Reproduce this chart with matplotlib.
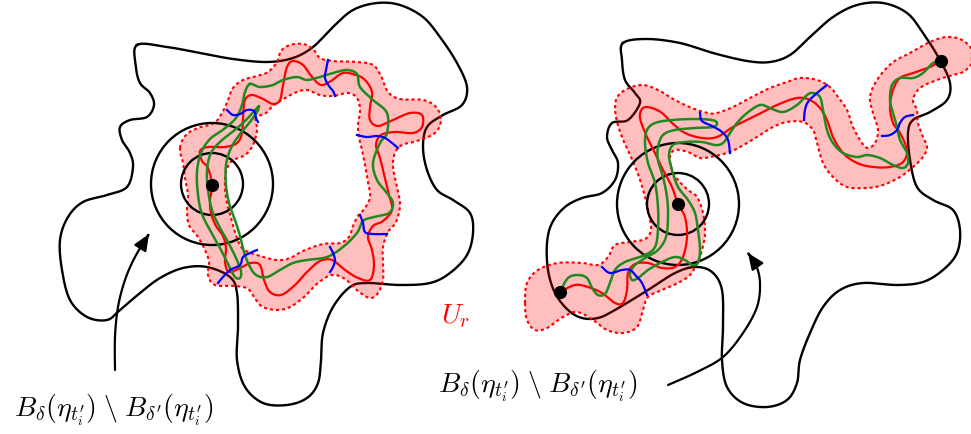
import numpy as np
import matplotlib
matplotlib.use("Agg")
import matplotlib.pyplot as plt
from matplotlib.path import Path
from matplotlib.patches import PathPatch, Circle, FancyArrowPatch

plt.rcParams["mathtext.fontset"] = "cm"

# control points, in pixel coordinates of the 971x434 picture (y grows downward)
left_domain = [(137, 45), (167, 47), (200, 53), (233, 59), (267, 62), (293, 58), (313, 47), (333, 27),
               (353, 10), (377, 3), (400, 5), (423, 17), (440, 37), (457, 63), (467, 87), (462, 105),
               (443, 115), (427, 127), (423, 147), (427, 170), (437, 190), (453, 200), (470, 213),
               (473, 233), (467, 255), (450, 273), (430, 283), (400, 285), (367, 283), (350, 287),
               (333, 307), (323, 333), (321, 360), (318, 383), (307, 398), (287, 405), (263, 403),
               (245, 387), (237, 360), (238, 327), (237, 293), (230, 277), (207, 267), (183, 268),
               (160, 278), (140, 293), (120, 310), (107, 320), (87, 317), (70, 300), (62, 270),
               (60, 240), (68, 217), (83, 202), (107, 195), (127, 187), (133, 167), (130, 153),
               (122, 140), (120, 127), (130, 120), (147, 117), (154, 105), (150, 93), (140, 83),
               (136, 67)]

right_domain = [(623, 43), (647, 39), (680, 43), (713, 53), (747, 61), (770, 62), (790, 55), (810, 37),
                (833, 17), (857, 5), (883, 3), (907, 13), (923, 33), (940, 60), (950, 83), (947, 100),
                (930, 112), (913, 120), (908, 133), (910, 160), (917, 187), (933, 200), (953, 210),
                (960, 230), (957, 253), (943, 270), (923, 282), (897, 285), (863, 283), (840, 290),
                (823, 307), (810, 333), (800, 360), (797, 383), (787, 400), (767, 407), (743, 403),
                (727, 387), (722, 360), (723, 327), (722, 290), (712, 272), (695, 267), (675, 273),
                (648, 290), (615, 310), (598, 318), (582, 318), (568, 310), (555, 293), (548, 270),
                (547, 243), (552, 223), (565, 207), (582, 198), (602, 193), (615, 180), (618, 163),
                (612, 150), (607, 137), (612, 123), (628, 120), (640, 103), (635, 93), (625, 80),
                (622, 60)]

left_tube_outer = [(180, 148), (186, 135), (198, 128), (214, 123), (222, 113), (228, 100), (233, 88),
                   (243, 80), (257, 76), (268, 72), (277, 62), (281, 51), (290, 45), (303, 44),
                   (313, 49), (320, 58), (333, 61), (357, 62), (373, 65), (381, 76), (388, 92),
                   (400, 99), (423, 100), (436, 107), (441, 120), (435, 133), (417, 141), (402, 145),
                   (395, 153), (393, 167), (397, 187), (400, 205), (396, 222), (388, 232), (383, 247),
                   (383, 262), (383, 280), (378, 293), (370, 298), (358, 291), (345, 279), (332, 275),
                   (318, 283), (304, 297), (290, 307), (277, 310), (263, 307), (256, 300), (248, 289),
                   (235, 286), (215, 285), (208, 275), (209, 262), (205, 250), (198, 237), (189, 225),
                   (187, 210), (188, 195), (185, 178), (183, 163)]

left_tube_inner = [(256, 118), (266, 113), (274, 105), (287, 97), (297, 92), (307, 90), (320, 95),
                   (333, 96), (348, 93), (357, 98), (360, 110), (358, 125), (359, 137), (362, 150),
                   (365, 165), (368, 182), (370, 197), (365, 208), (358, 216), (353, 226), (349, 237),
                   (340, 243), (323, 244), (303, 251), (290, 258), (277, 260), (257, 255), (243, 249),
                   (237, 238), (231, 218), (227, 203), (225, 188), (226, 172), (232, 161), (245, 155),
                   (253, 145), (257, 130)]

right_tube = [(525, 303), (527, 283), (538, 270), (558, 263), (582, 263), (598, 265), (608, 257),
              (615, 245), (630, 242), (645, 239), (651, 230), (649, 215), (645, 197), (639, 177),
              (631, 157), (622, 137), (616, 117), (616, 100), (625, 90), (642, 85), (658, 90),
              (675, 100), (692, 108), (708, 113), (717, 113), (733, 107), (750, 98), (770, 88),
              (787, 82), (800, 78), (817, 80), (830, 87), (838, 97), (847, 110), (853, 127),
              (862, 143), (868, 148), (875, 143), (878, 130), (873, 113), (870, 97), (877, 80),
              (892, 63), (910, 53), (930, 42), (947, 37), (962, 40), (972, 50), (972, 63),
              (963, 72), (953, 75), (937, 80), (920, 88), (913, 100), (917, 110), (918, 123),
              (923, 137), (927, 147), (923, 157), (913, 167), (900, 177), (883, 185), (867, 188),
              (847, 187), (833, 177), (823, 163), (817, 143), (813, 130), (803, 122), (787, 122),
              (773, 127), (757, 137), (740, 147), (727, 153), (710, 157), (700, 158), (688, 152),
              (675, 150), (670, 157), (672, 170), (678, 180), (688, 190), (697, 197), (703, 213),
              (705, 233), (702, 250), (697, 263), (690, 275), (678, 283), (662, 290), (648, 297),
              (643, 310), (637, 327), (623, 333), (607, 330), (593, 320), (577, 312), (563, 317),
              (547, 328), (535, 330), (527, 320)]

left_red = [(212, 185), (210, 200), (211, 213), (216, 226), (223, 236), (226, 248), (225, 262),
            (229, 272), (240, 268), (251, 263), (260, 265), (264, 280), (270, 292), (281, 295),
            (294, 286), (307, 272), (320, 261), (332, 260), (345, 270), (358, 278), (370, 280),
            (374, 266), (372, 250), (368, 237), (373, 226), (383, 221), (392, 210), (389, 195),
            (385, 178), (380, 158), (376, 145), (381, 135), (395, 132), (413, 133), (422, 127),
            (422, 115), (410, 113), (393, 120), (378, 126), (370, 120), (370, 107), (372, 92),
            (365, 80), (356, 75), (343, 73), (331, 81), (321, 85), (312, 77), (303, 65), (293, 61),
            (287, 67), (283, 85), (280, 100), (273, 104), (263, 99), (252, 95), (245, 100),
            (243, 117), (242, 133), (237, 143), (225, 147), (208, 147), (200, 151), (202, 161),
            (208, 168)]

right_red = [(560, 292), (575, 285), (588, 287), (602, 293), (615, 303), (623, 303), (627, 290),
             (628, 273), (635, 264), (648, 263), (662, 268), (675, 267), (683, 257), (687, 237),
             (685, 217), (678, 204), (672, 187), (663, 170), (655, 153), (647, 137), (640, 118),
             (643, 108), (652, 108), (662, 113), (672, 123), (685, 133), (702, 138), (717, 137),
             (733, 127), (757, 115), (777, 105), (797, 98), (810, 100), (820, 108), (827, 120),
             (833, 137), (843, 153), (857, 163), (873, 167), (890, 167), (903, 162), (907, 150),
             (900, 133), (893, 123), (890, 107), (893, 90), (900, 78), (913, 73), (930, 67),
             (941, 61)]

left_green = [(250, 84), (245, 92), (242, 105), (236, 118), (224, 129), (210, 139), (201, 153),
              (197, 172), (198, 195), (202, 214), (211, 232), (221, 250), (229, 266), (235, 277),
              (240, 278), (241, 271), (236, 258), (228, 242), (219, 226), (212, 210), (208, 190),
              (207, 170), (211, 153), (221, 141), (235, 130), (247, 119), (255, 110), (259, 106),
              (257, 112), (250, 122), (240, 134), (231, 148), (226, 165), (226, 185), (229, 203),
              (235, 220), (240, 236), (244, 252), (249, 265), (256, 275), (267, 277), (280, 270),
              (293, 263), (307, 260), (327, 257), (343, 247), (357, 233), (363, 221), (374, 217),
              (389, 213), (393, 203), (387, 193), (377, 180), (373, 163), (380, 143), (387, 133),
              (387, 113), (373, 100), (360, 87), (357, 74), (347, 70), (333, 73), (320, 77),
              (307, 80), (297, 77), (283, 80), (273, 85), (260, 87)]

right_green = [(560, 292), (568, 278), (578, 275), (587, 278), (592, 288), (598, 295), (605, 294),
               (610, 283), (615, 270), (625, 262), (645, 255), (655, 247), (658, 230), (658, 207),
               (655, 183), (648, 163), (645, 143), (647, 130), (655, 123), (672, 120), (695, 119),
               (712, 120), (717, 123), (713, 127), (695, 128), (675, 130), (663, 135), (658, 147),
               (658, 160), (663, 177), (667, 197), (668, 217), (666, 237), (658, 250), (645, 258),
               (635, 265), (630, 273), (632, 280), (638, 278), (648, 270), (662, 262), (675, 257),
               (685, 260), (692, 265), (698, 263), (700, 250), (698, 230), (695, 213), (688, 200),
               (678, 187), (672, 170), (669, 155), (673, 145), (685, 142), (702, 142), (715, 145),
               (723, 143), (730, 133), (737, 123), (747, 113), (760, 105), (770, 108), (783, 112),
               (797, 105), (807, 95), (813, 93), (820, 97), (823, 110), (827, 130), (833, 143),
               (843, 153), (857, 157), (867, 155), (880, 158), (893, 165), (903, 168), (908, 163),
               (907, 153), (900, 140), (897, 127), (893, 113), (890, 100), (892, 85), (900, 78),
               (913, 78), (923, 73), (933, 63), (941, 61)]

blue_arcs = [
    [(227, 110), (233, 115), (240, 114), (247, 110), (254, 111), (256, 118), (258, 122)],
    [(328, 60), (326, 70), (325, 78), (329, 86), (333, 91), (335, 96)],
    [(357, 135), (367, 137), (377, 136), (385, 138), (392, 143), (398, 148)],
    [(360, 215), (363, 223), (365, 232), (373, 234), (387, 234)],
    [(330, 247), (333, 253), (335, 260), (333, 267), (330, 272)],
    [(218, 283), (223, 277), (230, 270), (240, 265), (243, 257), (250, 253), (257, 250)],
    [(602, 267), (610, 273), (622, 270), (630, 270), (637, 277), (642, 283), (647, 295)],
    [(700, 113), (702, 121), (712, 126), (722, 132), (728, 140), (730, 153)],
    [(827, 85), (817, 93), (808, 102), (805, 110), (804, 120)],
    [(913, 115), (905, 117), (900, 123), (897, 130), (890, 135), (882, 136)],
]

ball_centres = [(212, 184), (678, 204)]
ball_radii = [31, 61]
dots = [(212, 185), (678, 204), (560, 292), (941, 61)]

arrows = [
    [(115, 370), (115, 337), (118, 307), (125, 280), (135, 257), (149, 234)],
    [(668, 385), (697, 372), (723, 357), (743, 333), (757, 307), (760, 283), (756, 265), (748, 253)],
]

label = r"$B_\delta(\eta_{t_i^\prime})\;\backslash\; B_{\delta^\prime}(\eta_{t_i^\prime})$"
label_pos = [(114, 410), (538, 386)]
tube_label = r"$U_r$"
tube_label_pos = (456, 316)

GREEN = "#1f8a1f"
BLUE = "#0000ff"


def smooth(pts, closed=False, n=16):
    # Catmull-Rom through the control points
    p = np.asarray(pts, float)
    if closed:
        P = np.vstack([p[-1], p, p[0], p[1]])
    else:
        P = np.vstack([p[0], p, p[-1]])
    t = np.linspace(0, 1, n, endpoint=False)[:, None]
    out = []
    for i in range(1, len(P) - 2):
        p0, p1, p2, p3 = P[i - 1], P[i], P[i + 1], P[i + 2]
        out.append(0.5 * (2 * p1 + (p2 - p0) * t + (2 * p0 - 5 * p1 + 4 * p2 - p3) * t ** 2
                          + (3 * p1 - p0 - 3 * p2 + p3) * t ** 3))
    out.append(P[-2][None, :])
    return np.vstack(out)


def ring_path(loops):
    verts, codes = [], []
    for k, lp in enumerate(loops):
        s = smooth(lp, closed=True)
        if k > 0:
            s = s[::-1]
        verts.extend(s)
        codes.extend([Path.MOVETO] + [Path.LINETO] * (len(s) - 2) + [Path.CLOSEPOLY])
    return Path(np.array(verts), codes)


fig = plt.figure(figsize=(9.71, 4.34), dpi=100)
ax = fig.add_axes([0, 0, 1, 1])
ax.set_xlim(0, 971)
ax.set_ylim(434, 0)
ax.axis("off")

for dom in (left_domain, right_domain):
    s = smooth(dom, closed=True)
    ax.plot(s[:, 0], s[:, 1], color="black", lw=1.7, zorder=1)

for loops in ([left_tube_outer, left_tube_inner], [right_tube]):
    p = ring_path(loops)
    ax.add_patch(PathPatch(p, facecolor=(1, 0, 0, 0.25), edgecolor="none", zorder=2))
    ax.add_patch(PathPatch(p, facecolor="none", edgecolor="red", lw=1.5,
                           linestyle=(0, (1.5, 1.4)), zorder=2.5))

for c in ball_centres:
    for r in ball_radii:
        ax.add_patch(Circle(c, r, fill=False, edgecolor="black", lw=1.7, zorder=3))

s = smooth(left_red, closed=True)
ax.plot(s[:, 0], s[:, 1], color="red", lw=1.6, zorder=4)
s = smooth(right_red)
ax.plot(s[:, 0], s[:, 1], color="red", lw=1.6, zorder=4)

s = smooth(left_green, closed=True)
ax.plot(s[:, 0], s[:, 1], color=GREEN, lw=1.8, zorder=5)
s = smooth(right_green)
ax.plot(s[:, 0], s[:, 1], color=GREEN, lw=1.8, zorder=5)

for arc in blue_arcs:
    s = smooth(arc)
    ax.plot(s[:, 0], s[:, 1], color=BLUE, lw=1.6, zorder=6)

dx, dy = zip(*dots)
ax.plot(dx, dy, "o", color="black", ms=8.5, zorder=7)

for a in arrows:
    s = smooth(a)
    ax.add_patch(FancyArrowPatch(path=Path(s), arrowstyle="-|>,head_length=0.7,head_width=0.3",
                                 mutation_scale=14, color="black", lw=1.6, zorder=7))

for x, y in label_pos:
    ax.text(x, y, label, fontsize=20, ha="center", va="center")
ax.text(*tube_label_pos, tube_label, fontsize=20, color="red", ha="center", va="center")

fig.savefig("out.png", dpi=100)
